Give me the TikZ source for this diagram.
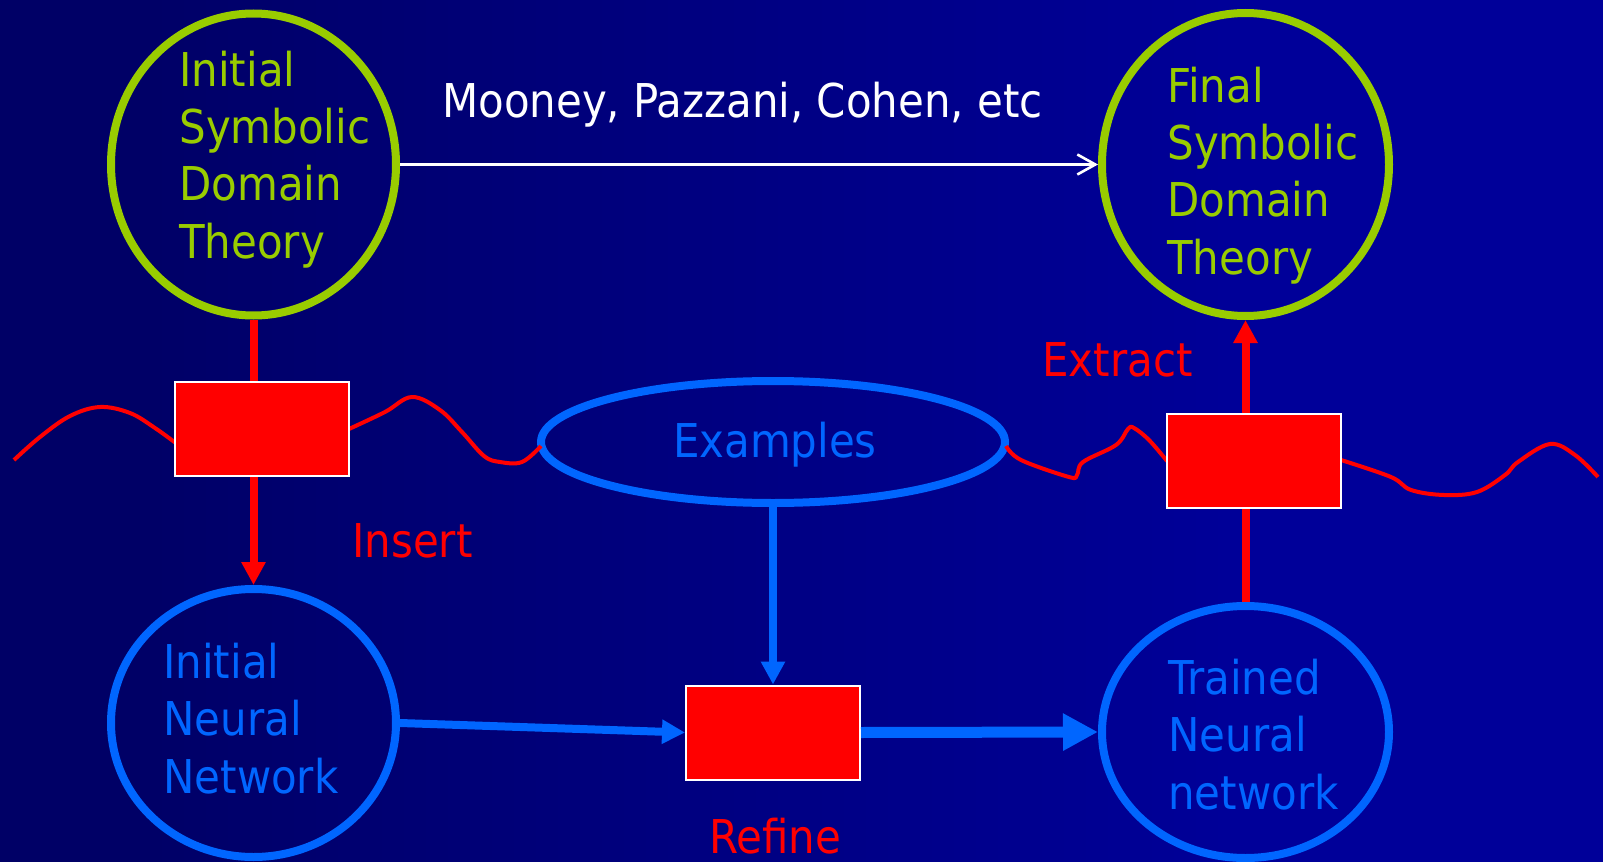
\documentclass[tikz,border=0pt]{standalone}
\usepackage{fontspec}
\setmainfont{DejaVu Sans Condensed}
\usetikzlibrary{arrows.meta,shapes.geometric}
\definecolor{bgL}{RGB}{0,0,102}
\definecolor{bgR}{RGB}{0,0,153}
\definecolor{lime}{RGB}{153,204,0}
\definecolor{skyb}{RGB}{0,102,255}
\definecolor{redc}{RGB}{255,0,0}
\pgfdeclarehorizontalshading{bgsh}{100bp}{color(0bp)=(bgL); color(29bp)=(bgL); color(64bp)=(bgR); color(100bp)=(bgR)}
\newcommand\mylines[1]{\begin{tabular}[t]{@{}l@{}}#1\end{tabular}}
\begin{document}
\begin{tikzpicture}[x=0.5pt,y=-0.5pt,
  txt/.style={inner sep=0pt, font=\fontsize{23.3pt}{28.75pt}\selectfont},
  symc/.style={ellipse, draw=lime, line width=4pt, inner sep=0pt},
  neuc/.style={ellipse, draw=skyb, line width=4pt, inner sep=0pt},
  rbox/.style={rectangle, fill=redc, draw=white, line width=1pt, minimum width=87pt, minimum height=47pt, inner sep=0pt},
  redarr/.style={draw=redc, line width=4pt, -{Triangle[length=11.5pt,width=11.5pt]}},
  bluearr/.style={draw=skyb, line width=4pt, -{Triangle[length=11.5pt,width=11.5pt]}},
  bluethick/.style={draw=skyb, line width=5.5pt, -{Triangle[length=17.5pt,width=17.5pt]}},
  wave/.style={draw=redc, line width=2pt, line join=round, line cap=butt}
]
\useasboundingbox (0,0) rectangle (1603,862);
\shade[shading=bgsh] (0,0) rectangle (1603,862);

% nodes
\node[symc, minimum width=142.5pt, minimum height=151pt] (ist) at (253.5,164.5) {};
\node[symc, minimum width=143.5pt, minimum height=151.5pt] (fst) at (1245.5,164.5) {};
\node[neuc, minimum width=142.5pt, minimum height=134pt] (inn) at (253.5,723) {};
\node[neuc, minimum width=143.5pt, minimum height=126pt] (tnn) at (1245.5,732) {};
\node[neuc, minimum width=232pt, minimum height=61pt] (ex) at (773,442) {};

% waves
\draw[wave] plot[smooth, tension=0.6] coordinates {(14,460) (40,437) (70,416) (100,407) (130,413) (155,428) (177,444)};
\draw[wave] plot[smooth, tension=0.6] coordinates {(349,429) (385,412) (412,397) (440,410) (462,432) (484,456) (500,462) (522,462) (541,446)};
\draw[wave] plot[smooth, tension=0.6] coordinates {(1006,446) (1021,460) (1069,477) (1077,475) (1083,462) (1116,445) (1128,429) (1134,428) (1149,440) (1167,461)};
\draw[wave] plot[smooth, tension=0.6] coordinates {(1341,460) (1391,477) (1411,490) (1444,495) (1477,492) (1505,475) (1518,462) (1550,444) (1575,455) (1598,477)};

% connectors
\draw[white, line width=1.3pt, -{Straight Barb[length=9pt,width=10pt]}] (ist.east) -- (fst.west);
\draw[redarr] (ist.south) -- (inn.north);
\draw[redarr] (tnn.north) -- (fst.south);

\node[rbox] (lb) at (262,429) {};
\node[rbox] (rb) at (1254,461) {};
\node[rbox] (mb) at (773,732.5) {};

\draw[bluearr] (ex.south) -- (mb.north);
\draw[bluearr] (inn.east) -- (mb.west);
\draw[bluethick] (mb.east) -- (tnn.west);

% texts
\node[txt, text=lime, anchor=base west] (ist-t) at (179,86) {\mylines{Initial\\Symbolic\\Domain\\Theory}};
\node[txt, text=lime, anchor=base west] (fst-t) at (1167,102) {\mylines{Final\\Symbolic\\Domain\\Theory}};
\node[txt, text=skyb, anchor=base west] (inn-t) at (163,678) {\mylines{Initial\\Neural\\Network}};
\node[txt, text=skyb, anchor=base west] (tnn-t) at (1168,694) {\mylines{Trained\\Neural\\network}};
\node[txt, text=skyb, anchor=base] (ex-t) at (775,457) {Examples};
\node[txt, text=white, anchor=base west] (who) at (442,117) {Mooney, Pazzani, Cohen, etc};
\node[txt, text=redc, anchor=base west] (ins) at (352,557) {Insert};
\node[txt, text=redc, anchor=base west] (ext) at (1042,376) {Extract};
\node[txt, text=redc, anchor=base] (ref) at (775,853) {Refine};
\end{tikzpicture}
\end{document}
